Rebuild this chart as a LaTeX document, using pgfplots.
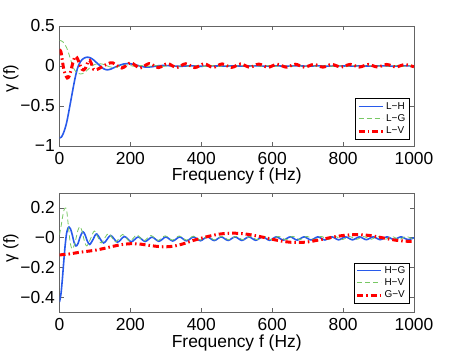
\documentclass[border=0pt]{standalone}
\usepackage{pgfplots}
\pgfplotsset{compat=1.18}
\usepackage{fontspec}
\setmainfont{Liberation Sans}
\definecolor{mblue}{RGB}{40,90,235}
\definecolor{mgreen}{RGB}{120,200,100}
\definecolor{mred}{RGB}{255,0,0}
\definecolor{mframe}{RGB}{100,100,100}
\pgfplotsset{
  myaxis/.style={
    scale only axis,
    width=354.5bp,
    xmin=0, xmax=1000,
    xtick={0,200,400,600,800,1000},
    xticklabels={0,200,400,600,800,1000},
    font=\fontsize{17.5}{20}\selectfont,
    /pgf/number format/assume math mode=true,
    axis line style={mframe, line width=0.6bp},
    every tick/.style={mframe, line width=0.5bp},
    major tick length=4bp,
    tick align=inside,
    xtick pos=both, ytick pos=both,
    xticklabel style={inner sep=0bp, yshift=-6bp},
    yticklabel style={inner sep=0bp, xshift=-4.5bp},
    xlabel={Frequency f (Hz)},
    xlabel style={at={(axis description cs:0.5,0)}, anchor=north, inner sep=0bp, yshift=-22bp},
    ylabel={γ (f)},
    legend style={font=\fontsize{10}{12}\selectfont, draw=black, line width=0.5bp, inner sep=1.5bp, row sep=0bp, cells={anchor=west}},
    legend cell align=left,
    legend image code/.code={\draw[#1] (0bp,0bp) -- (24bp,0bp);},
  },
  bluel/.style={color=mblue, line width=1.6bp, smooth, tension=0.5},
  greenl/.style={color=mgreen, line width=0.8bp, dash pattern=on 5bp off 3bp, smooth, tension=0.5},
  redl/.style={color=mred, line width=3bp, dash pattern=on 6bp off 3bp on 1.5bp off 3bp, smooth, tension=0.5},
}
\begin{document}
\begin{tikzpicture}
\path[use as bounding box] (0,0) rectangle (457bp,352bp);
% ---------------- top axis ----------------
\begin{axis}[myaxis,
  at={(59.5bp,206bp)}, anchor=south west,
  height=120bp,
  ymin=-1, ymax=0.5,
  ytick={-1,-0.5,0,0.5},
  yticklabels={−1,−0.5,0,0.5},
  ylabel style={at={(axis description cs:-0.137,0.56)}, anchor=center, inner sep=0bp, font=\fontsize{16.5}{19}\selectfont},
  legend style={at={(axis description cs:0.986,0.058)}, anchor=south east},
]
\addplot[bluel] coordinates {
(0,-0.90)(5,-0.89)(10,-0.85)(15,-0.79)(20,-0.71)(25,-0.60)(30,-0.48)(35,-0.36)(40,-0.24)(45,-0.13)(50,-0.04)(55,0.02)(60,0.06)(65,0.085)(70,0.10)(75,0.108)(80,0.11)(85,0.105)(90,0.095)(95,0.08)(100,0.06)(105,0.04)(110,0.02)(115,0.0)(120,-0.02)(125,-0.035)(130,-0.045)(135,-0.048)(140,-0.045)(145,-0.038)(150,-0.028)(160,-0.008)(170,0.01)(180,0.024)(190,0.03)(200,0.028)(210,0.02)(220,0.008)(230,-0.004)(240,-0.012)(250,-0.014)(260,-0.01)(270,-0.003)(280,0.004)(300,0.006)(320,0.0)(340,-0.004)(370,0.002)(400,-0.003)(430,0.002)(460,-0.002)(490,0.002)(520,-0.002)(550,0.002)(580,-0.002)(610,0.002)(640,-0.002)(670,0.002)(700,-0.002)(730,0.002)(760,-0.002)(790,0.002)(820,-0.002)(850,0.002)(880,-0.002)(910,0.002)(940,-0.002)(970,0.002)(1000,0.0)
};
\addlegendentry{L−H}
\addplot[greenl] coordinates {
(0,0.32)(5,0.315)(10,0.30)(15,0.27)(20,0.23)(25,0.17)(30,0.10)(35,0.03)(40,-0.03)(45,-0.065)(50,-0.085)(55,-0.095)(60,-0.10)(65,-0.095)(70,-0.085)(75,-0.065)(80,-0.045)(85,-0.025)(90,-0.005)(100,0.02)(110,0.03)(120,0.025)(130,0.01)(140,-0.008)(150,-0.018)(160,-0.015)(170,-0.003)(180,0.008)(190,0.012)(200,0.006)(210,-0.004)(230,0.006)(250,-0.006)(270,0.006)(290,-0.006)(310,0.006)(330,-0.006)(350,0.006)(370,-0.006)(390,0.006)(410,-0.006)(430,0.006)(450,-0.006)(470,0.006)(490,-0.006)(510,0.005)(530,-0.005)(550,0.005)(570,-0.005)(590,0.005)(610,-0.005)(630,0.005)(650,-0.005)(670,0.005)(690,-0.005)(710,0.005)(730,-0.005)(750,0.005)(770,-0.005)(790,0.005)(810,-0.005)(830,0.005)(850,-0.005)(870,0.005)(890,-0.005)(910,0.005)(930,-0.005)(950,0.005)(970,-0.005)(990,0.005)(1000,0.0)
};
\addlegendentry{L−G}
\addplot[redl] coordinates {
(0,0.20)(4,0.18)(8,0.07)(12,-0.04)(17,-0.11)(22,-0.15)(27,-0.13)(32,-0.06)(37,0.03)(42,0.10)(46,0.12)(51,0.09)(57,0.02)(63,-0.04)(68,-0.05)(74,-0.02)(80,0.05)(85,0.07)(90,0.03)(96,-0.04)(102,-0.05)(114,-0.025)(126,0.005)(138,0.03)(150,0.04)(176,-0.025)(201,0.04)(227,-0.025)(253,0.03)(279,-0.02)(305,0.03)(330,-0.02)(356,0.028)(382,-0.02)(408,0.028)(433,-0.018)(459,0.026)(485,-0.018)(511,0.025)(537,-0.016)(562,0.024)(588,-0.016)(614,0.022)(640,-0.015)(665,0.022)(691,-0.015)(717,0.02)(743,-0.014)(768,0.02)(794,-0.014)(820,0.02)(846,-0.013)(871,0.019)(897,-0.013)(923,0.019)(949,-0.012)(974,0.018)(1000,-0.01)
};
\addlegendentry{L−V}
\end{axis}
% ---------------- bottom axis ----------------
\begin{axis}[myaxis,
  at={(59.5bp,39.7bp)}, anchor=south west,
  height=119.3bp,
  ymin=-0.5, ymax=0.3,
  ytick={-0.4,-0.2,0,0.2},
  yticklabels={−0.4,−0.2,−0,0.2},
  ylabel style={at={(axis description cs:-0.137,0.54)}, anchor=center, inner sep=0bp, font=\fontsize{16.5}{19}\selectfont},
  legend style={at={(axis description cs:0.986,0.076)}, anchor=south east},
]
\addplot[bluel] coordinates {
(0,-0.43)(4,-0.38)(8,-0.28)(12,-0.16)(16,-0.05)(20,0.03)(24,0.065)(27,0.072)(31,0.06)(36,0.02)(41,-0.03)(46.5,-0.055)(52,-0.04)(59,0.01)(66,0.04)(72,0.02)(79,-0.025)(85.5,-0.045)(95,-0.01)(105,0.025)(124.5,-0.035)(144,0.015)(163.5,-0.03)(183,0.008)(202.5,-0.027)(222,0.005)(241.5,-0.025)(261,0.004)(280.5,-0.024)(300,0.005)(319.5,-0.022)(339,0.005)(358.5,-0.021)(378,0.005)(397.5,-0.02)(417,0.006)(436.5,-0.019)(456,0.006)(475.5,-0.018)(495,0.006)(514.5,-0.018)(534,0.006)(553.5,-0.017)(573,0.006)(592.5,-0.017)(612,0.006)(631.5,-0.016)(651,0.006)(670.5,-0.016)(690,0.006)(709.5,-0.015)(729,0.006)(748.5,-0.015)(768,0.006)(787.5,-0.014)(807,0.006)(826.5,-0.014)(846,0.006)(865.5,-0.013)(885,0.006)(904.5,-0.013)(924,0.006)(943.5,-0.012)(963,0.006)(982.5,-0.012)(1000,0.0)
};
\addlegendentry{H−G}
\addplot[greenl] coordinates {
(0,0.02)(4,0.07)(8,0.13)(12,0.18)(16,0.20)(18,0.20)(21,0.17)(25,0.08)(30,-0.03)(35,-0.075)(40,-0.06)(46,-0.01)(52,0.05)(58,0.075)(64,0.04)(70,-0.02)(77,-0.055)(87,-0.01)(98,0.045)(108,0.005)(118,-0.035)(138,0.028)(158,-0.028)(178,0.022)(198,-0.024)(218,0.018)(238,-0.02)(258,0.015)(278,-0.018)(298,0.013)(318,-0.016)(338,0.012)(358,-0.016)(378,0.011)(398,-0.015)(418,0.01)(438,-0.015)(458,0.01)(478,-0.014)(498,0.009)(518,-0.014)(538,0.009)(558,-0.013)(578,0.009)(598,-0.013)(618,0.009)(638,-0.013)(658,0.009)(678,-0.012)(698,0.009)(718,-0.012)(738,0.009)(758,-0.012)(778,0.008)(798,-0.012)(818,0.008)(838,-0.011)(858,0.008)(878,-0.011)(898,0.008)(918,-0.011)(938,0.008)(958,-0.011)(978,0.008)(998,-0.01)
};
\addlegendentry{H−V}
\addplot[redl] coordinates {
(0,-0.115)(25,-0.11)(50,-0.10)(75,-0.092)(100,-0.084)(125,-0.072)(150,-0.058)(175,-0.046)(200,-0.040)(225,-0.042)(250,-0.05)(275,-0.058)(300,-0.061)(325,-0.055)(350,-0.04)(375,-0.02)(400,-0.003)(425,0.012)(450,0.024)(475,0.03)(500,0.03)(525,0.025)(550,0.015)(575,0.003)(600,-0.01)(625,-0.022)(650,-0.03)(675,-0.032)(700,-0.028)(725,-0.018)(750,-0.006)(775,0.006)(800,0.015)(825,0.02)(850,0.02)(875,0.015)(900,0.005)(925,-0.007)(950,-0.017)(975,-0.023)(1000,-0.025)
};
\addlegendentry{G−V}
\end{axis}
\end{tikzpicture}
\end{document}
